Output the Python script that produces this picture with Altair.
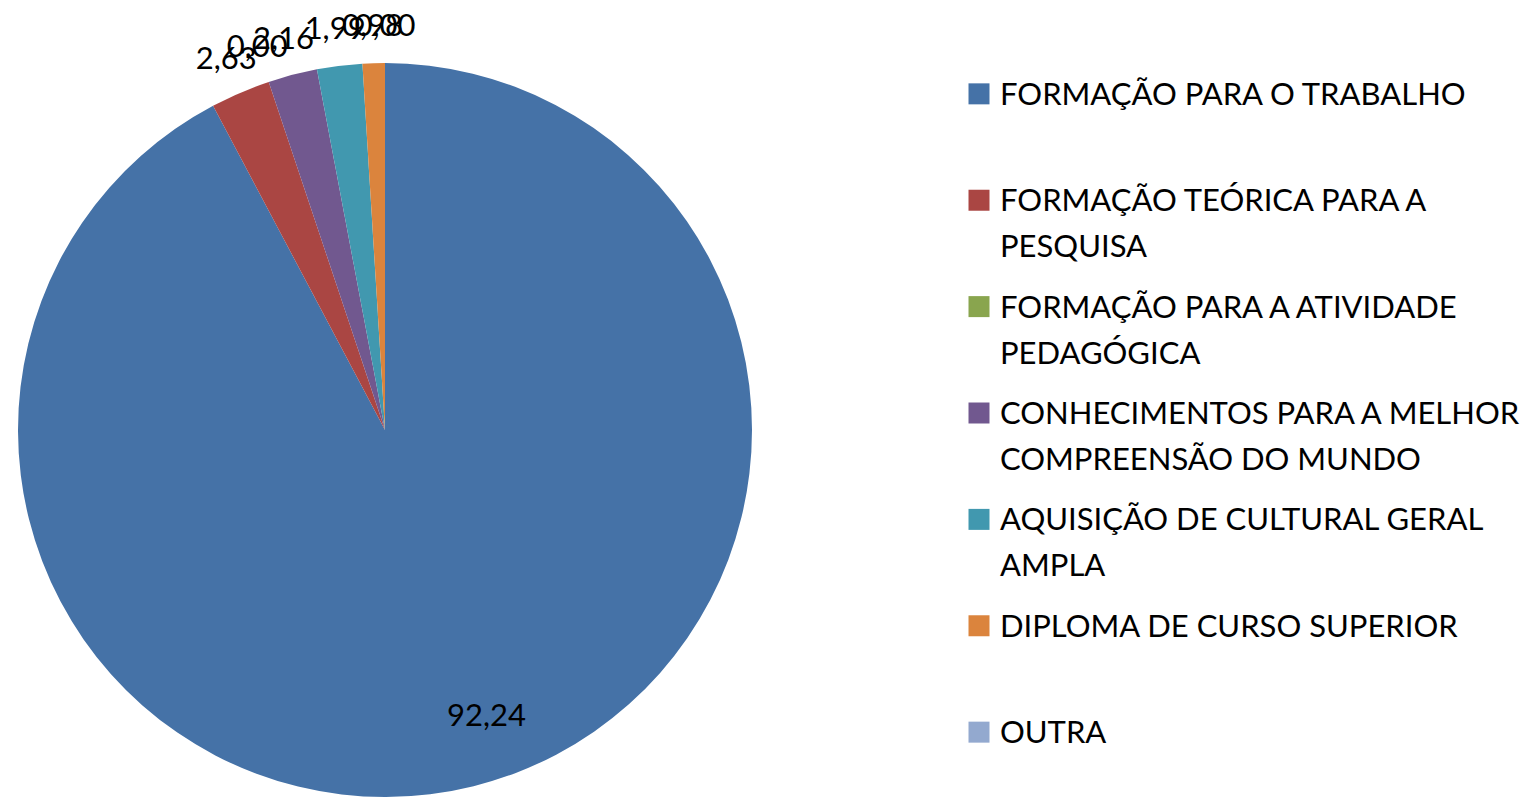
import altair as alt
import pandas as pd

categories = [
    "FORMAÇÃO PARA O TRABALHO",
    "FORMAÇÃO TEÓRICA PARA A PESQUISA",
    "FORMAÇÃO PARA A ATIVIDADE PEDAGÓGICA",
    "CONHECIMENTOS PARA A MELHOR COMPREENSÃO DO MUNDO",
    "AQUISIÇÃO DE CULTURAL GERAL AMPLA",
    "DIPLOMA DE CURSO SUPERIOR",
    "OUTRA",
]
legend_labels = [
    "FORMAÇÃO PARA O TRABALHO",
    "FORMAÇÃO TEÓRICA PARA A\nPESQUISA",
    "FORMAÇÃO PARA A ATIVIDADE\nPEDAGÓGICA",
    "CONHECIMENTOS PARA A MELHOR\nCOMPREENSÃO DO MUNDO",
    "AQUISIÇÃO DE CULTURAL GERAL\nAMPLA",
    "DIPLOMA DE CURSO SUPERIOR",
    "OUTRA",
]
values = [92.24, 2.63, 0.00, 2.16, 1.99, 0.98, 0.00]
colors = ["#4572A7", "#AA4643", "#89A54E", "#71588F", "#4198AF", "#DB843D", "#93A9CF"]

FONT = "Lato"

df = pd.DataFrame({
    "cat": categories,
    "legend": legend_labels,
    "value": values,
    "idx": list(range(len(categories))),
})

color_scale = alt.Scale(domain=categories, range=colors)

base = alt.Chart(df).transform_calculate(
    label="replace(format(datum.value, '.2f'), '.', ',')"
).encode(
    theta=alt.Theta("value:Q", stack=True),
    order=alt.Order("idx:Q"),
)

arcs = base.mark_arc(radius=367).encode(
    color=alt.Color("cat:N", scale=color_scale, legend=None)
)

big_label = base.mark_text(radius=296, dx=30, dy=0, fontSize=31, font=FONT, color="black").encode(
    text=alt.condition("datum.value > 50", alt.Text("label:N"), alt.value(""))
)
small_label = base.mark_text(radius=403, fontSize=31, font=FONT, color="black").encode(
    text=alt.condition("datum.value <= 50", alt.Text("label:N"), alt.value(""))
)

pie = alt.layer(arcs, big_label, small_label).properties(width=746, height=734)

ybase = alt.Chart(df).encode(
    y=alt.Y("cat:N", sort=categories, axis=None, scale=alt.Scale(type="point", padding=0.29))
)
leg_sym = ybase.mark_square(size=441, opacity=1).encode(
    x=alt.value(21),
    color=alt.Color("cat:N", scale=color_scale, legend=None),
)
leg_txt = ybase.mark_text(
    align="left", baseline="top", dy=-13, fontSize=31, font=FONT, color="black",
    lineBreak="\n", lineHeight=46
).encode(
    x=alt.value(42),
    text="legend:N",
)
legend = alt.layer(leg_sym, leg_txt).properties(width=500, height=700)

chart = alt.hconcat(pie, legend, spacing=200).properties(
    padding={"left": 4, "top": 3, "right": 0, "bottom": 0},
).configure_view(stroke=None)

chart.save("out.html", embed_options={"renderer": "svg", "actions": False})
